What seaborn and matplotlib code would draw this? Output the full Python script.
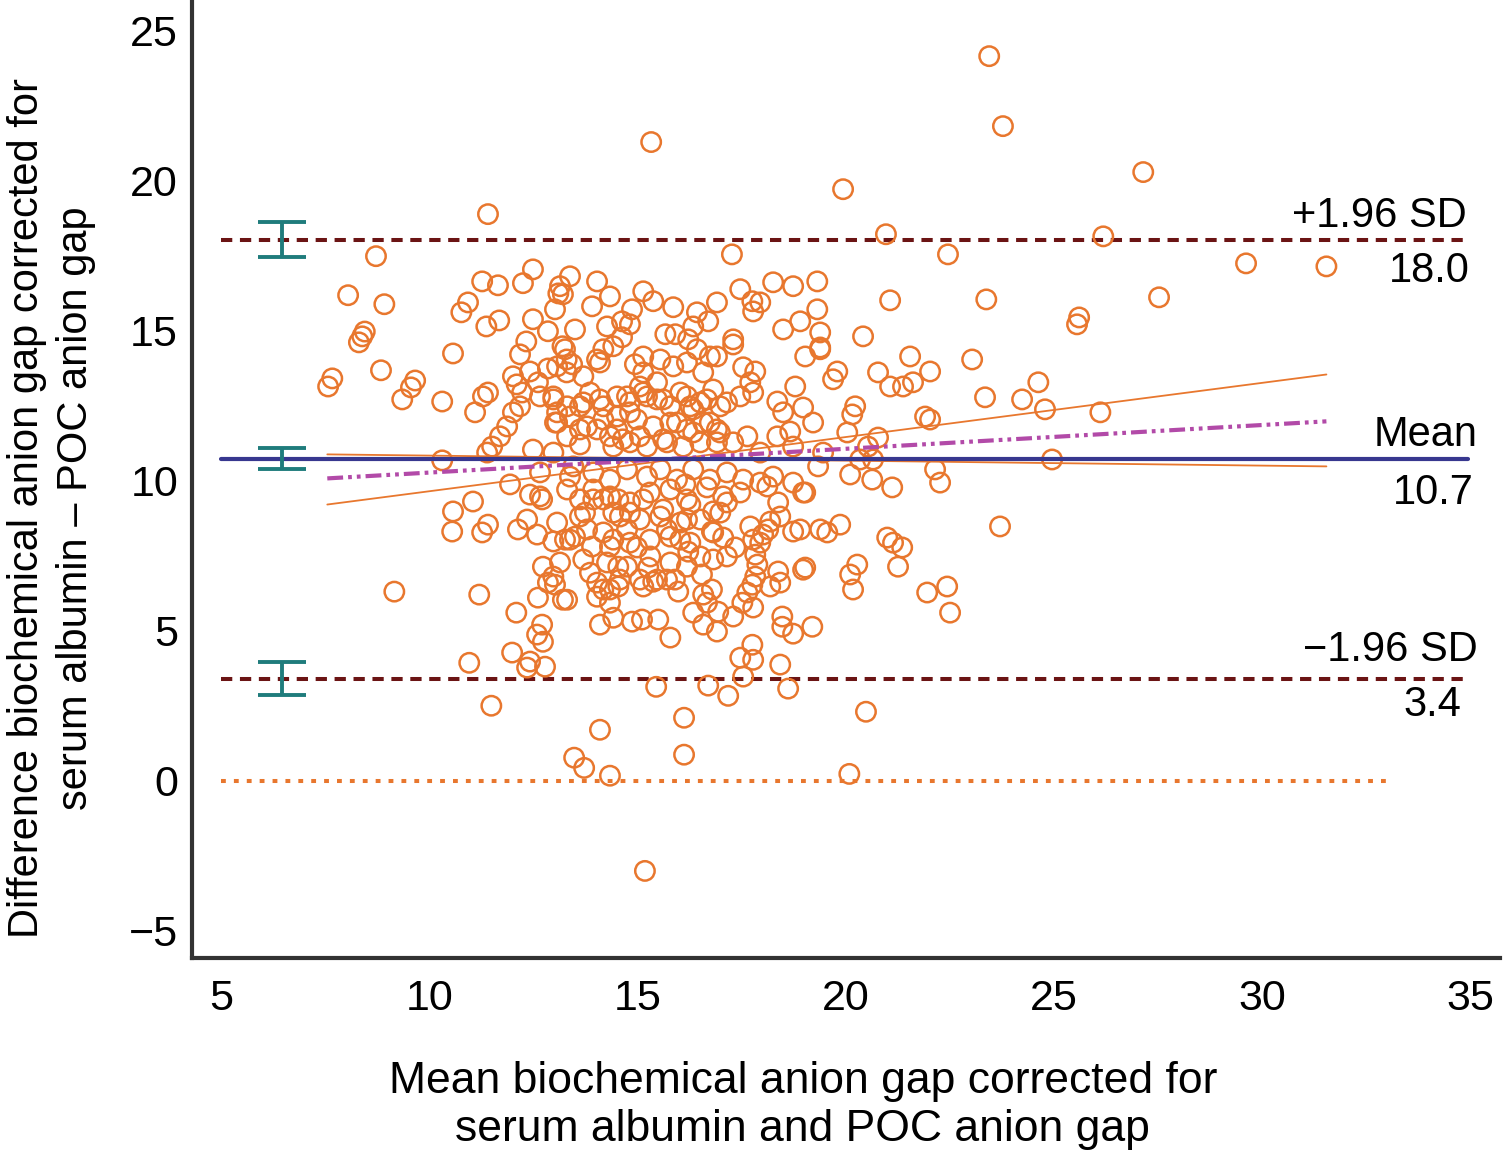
import matplotlib
matplotlib.use("Agg")
import matplotlib.pyplot as plt
import numpy as np
import pandas as pd
import seaborn as sns

# ---------------- data (mean, difference) ----------------
outer_points = [
    (23.45, 24.13), (23.78, 21.8), (15.33, 21.27), (27.15, 20.27), (19.94, 19.7), (11.41, 18.87),
    (20.97, 18.2), (26.19, 18.13), (8.72, 17.47), (22.46, 17.53), (17.27, 17.53), (29.62, 17.23),
    (31.55, 17.13), (27.53, 16.1), (23.38, 16.03), (21.07, 16.0), (8.05, 16.17), (8.92, 15.87),
    (25.61, 15.43), (25.56, 15.2), (20.42, 14.8), (21.55, 14.13), (23.04, 14.03), (24.63, 13.27),
    (24.24, 12.7), (24.79, 12.37), (23.35, 12.77), (26.12, 12.27), (24.96, 10.7), (23.71, 8.47),
    (22.44, 6.47), (22.51, 5.6), (21.96, 6.27), (21.26, 7.13), (21.0, 8.1), (21.14, 7.93),
    (21.36, 7.77), (20.28, 7.2), (20.11, 6.87), (20.18, 6.37), (20.49, 2.3), (20.09, 0.23),
    (15.18, -3.0), (16.12, 2.1), (16.12, 0.87), (15.45, 3.13), (14.1, 1.7), (13.48, 0.77),
    (13.72, 0.43), (14.34, 0.17), (11.49, 2.5), (9.16, 6.3), (10.96, 3.93), (11.2, 6.2),
    (10.31, 10.67), (7.57, 13.13), (7.67, 13.4), (8.31, 14.6), (8.39, 14.8), (8.45, 14.96),
    (8.84, 13.67), (9.66, 13.33), (9.56, 13.1), (9.35, 12.7), (10.31, 12.63), (10.57, 14.23),
]

left_upper_points = [
    (11.27, 16.63), (11.65, 16.5), (12.49, 17.03), (12.25, 16.57), (13.1, 16.23), (10.93, 15.93),
    (10.77, 15.6), (11.68, 15.33), (11.37, 15.13), (12.33, 14.63), (11.41, 12.93), (11.29, 12.8),
    (11.1, 12.27), (12.01, 13.47), (12.42, 13.63), (12.85, 13.73), (12.1, 13.2), (12.23, 12.93),
    (12.18, 12.47), (12.01, 12.27), (11.87, 11.8), (11.7, 11.47), (11.51, 11.13), (12.61, 13.27),
    (12.98, 12.8), (13.07, 12.27), (13.02, 11.93), (13.2, 14.47), (13.3, 14.03), (13.3, 13.6),
    (13.07, 13.8), (11.39, 10.93), (12.49, 11.03), (12.98, 10.93), (12.18, 14.2), (12.49, 15.37),
    (12.85, 14.97), (13.02, 15.7), (13.14, 16.47),
]

left_lower_points = [
    (11.05, 9.3), (10.57, 8.97), (10.55, 8.3), (11.94, 9.87), (12.42, 9.53), (12.66, 9.47),
    (12.71, 9.37), (11.41, 8.53), (11.27, 8.27), (12.13, 8.37), (12.35, 8.7), (12.59, 8.2),
    (12.98, 7.97), (13.07, 8.6), (13.38, 8.03), (12.73, 7.13), (12.98, 6.8), (13.02, 6.53),
    (12.85, 6.6), (12.61, 6.1), (13.21, 6.03), (12.09, 5.6), (12.71, 5.2), (12.59, 4.87),
    (12.73, 4.63), (11.99, 4.27), (12.42, 3.97), (12.78, 3.8), (12.35, 3.77),
]

center_lower_points = [
    (17.18, 2.83), (16.7, 3.17), (17.54, 3.47), (18.62, 3.07), (18.43, 3.87), (17.47, 4.1),
    (17.78, 4.03), (17.76, 4.53), (19.2, 5.13), (18.74, 4.9), (18.48, 5.13), (18.48, 5.47),
    (15.79, 4.77), (14.1, 5.2), (14.42, 5.43), (14.87, 5.3), (15.11, 5.37), (15.5, 5.37),
    (16.58, 5.2), (16.91, 4.97), (17.3, 5.47), (16.94, 5.63), (16.34, 5.6), (16.67, 5.93),
    (13.31, 6.03), (14.34, 5.93), (14.03, 6.13), (14.54, 6.47), (15.14, 6.47), (15.47, 6.7),
    (15.71, 6.7), (15.98, 6.3), (15.9, 6.7), (17.78, 5.77), (17.52, 5.93), (17.64, 6.27),
    (17.76, 6.53), (17.83, 6.8), (17.88, 7.2), (18.19, 6.47), (18.43, 6.6), (18.38, 6.97),
    (18.98, 7.03), (16.55, 6.87), (16.51, 7.47), (16.79, 6.37), (16.58, 6.2), (16.19, 7.13),
    (16.22, 7.63), (17.15, 7.47), (17.35, 7.77), (17.06, 8.1), (16.82, 8.27), (17.83, 7.53),
    (17.95, 7.93), (18.02, 8.2), (18.14, 8.37), (18.19, 8.63), (18.43, 8.8), (18.38, 9.27),
    (18.74, 8.3), (18.98, 9.6), (18.12, 9.8), (19.39, 8.37), (19.56, 8.27), (15.31, 7.47),
    (15.26, 7.1), (15.38, 6.63), (15.06, 6.7), (14.54, 7.13), (14.58, 6.7), (14.34, 6.37),
    (14.03, 6.6), (14.18, 6.37), (13.86, 6.93), (13.7, 7.37), (13.91, 7.8), (13.79, 8.37),
    (13.74, 8.93), (13.62, 9.37), (13.31, 9.7), (13.26, 8.03), (14.18, 8.27), (14.42, 8.03),
    (14.75, 8.37), (14.82, 8.93), (14.42, 8.93), (14.18, 9.37), (13.94, 9.7), (14.54, 9.37),
    (14.99, 7.77), (15.14, 9.37), (15.62, 9.03), (15.71, 8.37), (16.03, 8.03), (16.19, 8.7),
    (16.27, 9.2), (15.79, 9.7), (16.15, 9.87), (16.67, 9.77), (16.82, 8.97), (16.79, 8.3),
    (17.15, 9.27), (17.47, 9.6), (17.71, 8.47), (17.78, 8.03),
]

center_upper_points = [
    (13.38, 16.8), (14.03, 16.63), (14.34, 16.13), (13.21, 16.2), (15.14, 16.3), (15.38, 15.97),
    (14.87, 15.7), (13.91, 15.8), (14.27, 15.13), (14.63, 15.3), (14.82, 15.2), (14.63, 14.77),
    (14.42, 14.47), (14.18, 14.37), (14.03, 14.03), (13.5, 15.03), (13.26, 14.37), (13.43, 13.87),
    (13.7, 13.47), (14.1, 13.93), (15.86, 15.77), (16.43, 15.6), (16.7, 15.3), (16.91, 15.93),
    (16.34, 15.13), (15.67, 14.87), (15.91, 14.87), (16.22, 14.7), (16.43, 14.37), (16.74, 14.13),
    (16.19, 13.93), (15.86, 13.8), (15.55, 14.03), (15.14, 14.13), (14.94, 13.87), (15.06, 13.13),
    (15.47, 13.27), (15.14, 13.6), (17.47, 16.37), (17.76, 15.97), (17.95, 15.93), (17.78, 15.63),
    (18.26, 16.6), (18.74, 16.47), (19.32, 16.63), (19.32, 15.7), (18.91, 15.3), (18.5, 15.03),
    (17.3, 14.7), (17.3, 14.53), (19.03, 14.13), (19.39, 14.37), (19.39, 14.93), (16.91, 14.13),
    (16.58, 13.6), (16.82, 13.03), (16.51, 12.6), (17.15, 12.6), (17.54, 13.77), (17.83, 13.63),
    (17.71, 13.27), (17.47, 12.8), (17.78, 12.93), (18.79, 13.13), (18.36, 12.63), (18.5, 12.27),
    (18.98, 12.43), (19.22, 11.93), (18.67, 11.63),
]

center_mid_points = [
    (13.86, 12.93), (13.62, 12.47), (14.18, 12.47), (14.51, 12.13), (14.75, 12.8), (14.82, 12.27),
    (15.14, 12.93), (15.47, 12.7), (15.79, 12.47), (15.95, 11.93), (16.19, 12.8), (16.34, 12.37),
    (13.38, 12.13), (13.31, 11.47), (13.62, 11.7), (14.03, 11.7), (14.34, 11.47), (14.65, 11.37),
    (15.06, 11.47), (15.38, 11.8), (15.71, 11.27), (16.1, 11.13), (16.34, 11.6), (16.74, 11.93),
    (16.98, 11.6), (17.3, 11.27), (17.64, 11.47), (17.95, 10.93), (18.36, 11.47), (18.74, 11.13),
    (13.46, 10.47), (13.94, 10.27), (14.34, 10.03), (14.75, 10.37), (15.23, 10.13), (15.55, 10.37),
    (15.95, 10.03), (16.34, 10.37), (16.74, 10.03), (17.15, 10.27), (17.54, 10.03), (17.95, 9.93),
    (18.26, 10.13), (18.74, 9.93),
    (12.66, 12.8), (12.98, 12.7), (13.31, 12.47), (13.7, 12.6), (14.1, 12.7), (14.51, 12.8),
    (14.82, 12.6), (15.23, 12.8), (15.62, 12.7), (16.03, 12.93), (16.27, 12.47), (16.67, 12.7),
    (16.99, 12.47), (13.07, 11.93), (13.79, 11.8), (14.18, 12.03), (14.51, 11.7), (14.99, 12.03),
    (15.79, 11.93), (16.19, 11.7), (16.58, 11.93), (16.91, 11.7), (13.62, 11.2), (14.42, 11.13),
    (14.82, 11.27), (15.23, 11.13), (15.62, 11.37), (16.51, 11.27), (16.91, 11.27), (12.66, 10.27),
    (13.38, 10.13), (13.94, 9.37), (14.34, 9.47), (14.82, 9.27), (15.3, 9.6), (16.19, 9.37),
    (17.06, 9.47), (13.62, 8.8), (14.58, 8.8), (15.06, 8.7), (15.55, 8.8), (16.03, 8.6),
    (16.51, 8.7), (16.99, 8.93), (13.5, 8.13), (14.34, 7.8), (14.82, 7.93), (15.3, 8.03),
    (15.79, 8.13), (16.27, 7.93), (13.14, 7.27), (14.27, 7.27), (14.75, 7.13), (15.79, 7.27),
    (16.82, 7.37),
]

right_points = [
    (19.39, 14.43), (19.8, 13.63), (19.7, 13.37), (20.78, 13.6), (21.07, 13.13), (21.38, 13.13),
    (21.62, 13.27), (22.03, 13.63), (20.23, 12.47), (20.16, 12.2), (20.04, 11.6), (21.91, 12.13),
    (22.03, 12.03), (20.78, 11.43), (20.54, 11.13), (19.46, 10.93), (19.34, 10.47), (20.35, 10.7),
    (20.66, 10.7), (20.11, 10.2), (20.64, 10.03), (21.12, 9.77), (22.15, 10.37), (22.27, 9.93),
    (19.03, 9.6), (19.87, 8.53), (18.91, 8.37), (19.03, 7.1),
]

# Bland-Altman statistics
mean_diff = 10.7
upper_loa = 18.0
lower_loa = 3.4
mean_ci = (10.38, 11.07)
upper_ci = (17.45, 18.6)
lower_ci = (2.87, 3.97)
ci_x = 6.47
ref_x = [5.0, 34.95]
zero_x = [5.0, 33.1]

# regression line and its limits
reg_x = [7.55, 31.55]
reg_line = [10.07, 11.97]
reg_upper = [9.2, 13.53]
reg_lower = [10.87, 10.47]

xticks = [5, 10, 15, 20, 25, 30, 35]
yticks = [-5, 0, 5, 10, 15, 20, 25]

# ---------------- styling ----------------
ORANGE = "#E8772E"
DARKRED = "#6B1414"
NAVY = "#37378F"
PURPLE = "#B24AA8"
TEAL = "#1F7C7C"
AXC = "#333333"

sns.set_theme(style="white")
plt.rcParams["font.family"] = ["Liberation Sans", "DejaVu Sans"]
plt.rcParams["text.color"] = "black"
plt.rcParams["axes.labelcolor"] = "black"
plt.rcParams["xtick.color"] = "black"
plt.rcParams["ytick.color"] = "black"

fig = plt.figure(figsize=(15.03, 11.59), dpi=100)
ax = fig.add_axes([192 / 1503, 1 - 958 / 1159, 1308 / 1503, 958 / 1159])

pts = (outer_points + left_upper_points + left_lower_points + center_lower_points
       + center_upper_points + center_mid_points + right_points)
df = pd.DataFrame(pts, columns=["mean", "diff"])

# reference lines
ax.plot(zero_x, [0, 0], color=ORANGE, lw=2.9, linestyle=(0, (1.2, 2.0)), zorder=2,
        solid_capstyle="butt", dash_capstyle="butt")
ax.plot(ref_x, [upper_loa, upper_loa], color=DARKRED, lw=2.9, linestyle=(0, (2.8, 1.9)), zorder=2)
ax.plot(ref_x, [lower_loa, lower_loa], color=DARKRED, lw=2.9, linestyle=(0, (2.8, 1.9)), zorder=2)

# scatter
sns.scatterplot(data=df, x="mean", y="diff", ax=ax, s=195, marker="o",
                facecolor="none", edgecolor=ORANGE, linewidth=1.8, zorder=3, legend=False)

# regression lines
sns.lineplot(x=reg_x, y=reg_upper, ax=ax, color=ORANGE, lw=1.3, zorder=4)
sns.lineplot(x=reg_x, y=reg_lower, ax=ax, color=ORANGE, lw=1.3, zorder=4)
sns.lineplot(x=reg_x, y=reg_line, ax=ax, color=PURPLE, lw=3.0,
             linestyle=(0, (3.8, 1.2, 0.9, 1.2, 0.9, 1.2)), zorder=5)
ax.plot(ref_x, [mean_diff, mean_diff], color=NAVY, lw=3.0, zorder=6)

# CI error bars
centers = [upper_loa, mean_diff, lower_loa]
lows = [upper_ci[0], mean_ci[0], lower_ci[0]]
highs = [upper_ci[1], mean_ci[1], lower_ci[1]]
yerr = [[c - l for c, l in zip(centers, lows)], [h - c for c, h in zip(centers, highs)]]
ax.errorbar([ci_x] * 3, centers, yerr=yerr, fmt="none", ecolor=TEAL, elinewidth=2.8,
            capsize=17.5, capthick=2.8, zorder=7)

# annotations
fs_ann = 30
ax.text(34.93, 18.8, "+1.96 SD", ha="right", va="center", fontsize=fs_ann)
ax.text(35.0, 16.97, "18.0", ha="right", va="center", fontsize=fs_ann)
ax.text(35.18, 11.53, "Mean", ha="right", va="center", fontsize=fs_ann)
ax.text(35.1, 9.6, "10.7", ha="right", va="center", fontsize=fs_ann)
ax.text(35.18, 4.37, "\u22121.96 SD", ha="right", va="center", fontsize=fs_ann)
ax.text(34.8, 2.53, "3.4", ha="right", va="center", fontsize=fs_ann)

# axes
ax.set_xlim(4.30, 35.72)
ax.set_ylim(-5.9, 26.0)
ax.set_xticks(xticks)
ax.set_yticks(yticks)
for s in ["top", "right"]:
    ax.spines[s].set_visible(False)
for s in ["left", "bottom"]:
    ax.spines[s].set_linewidth(3.0)
    ax.spines[s].set_color(AXC)
ax.tick_params(axis="both", direction="in", length=19, width=2.2, color=AXC,
               labelsize=31, labelcolor="black")
ax.tick_params(axis="x", pad=15)
ax.tick_params(axis="y", pad=10)

ax.set_xlabel("Mean biochemical anion gap corrected for\nserum albumin and POC anion gap",
              fontsize=32, linespacing=1.2, color="black")
ax.set_ylabel("Difference biochemical anion gap corrected for\nserum albumin \u2013 POC anion gap",
              fontsize=30, linespacing=1.3, color="black")
ax.xaxis.set_label_coords(0.467, -0.108)
ax.yaxis.set_label_coords(-0.0735, 0.47)

fig.savefig("out.png", dpi=100)
